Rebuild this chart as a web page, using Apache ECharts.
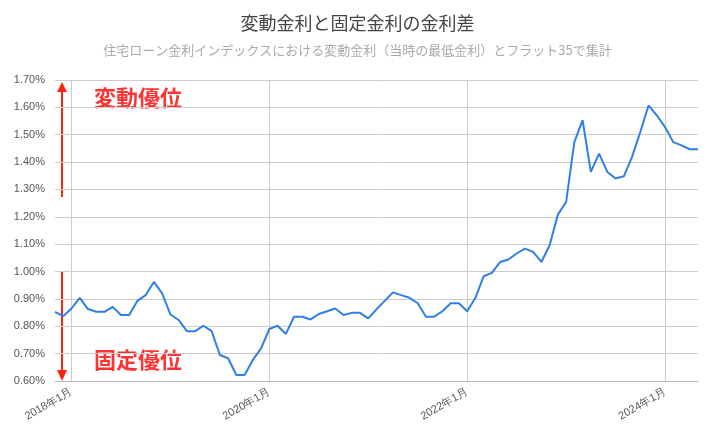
<!DOCTYPE html>
<html><head><meta charset="utf-8">
<script src="https://cdn.jsdelivr.net/npm/echarts@6/dist/echarts.min.js"></script>
<style>html,body{margin:0;padding:0;background:#fff}#c{width:715px;height:441px}</style>
</head><body><div id="c"></div>
<script>
const startYear = 2017, startMonth = 11;
const values = [
0.853,0.837,0.865,0.904,0.863,0.853,0.853,0.871,0.841,0.841,0.893,0.914,0.962,0.920,
0.843,0.823,0.782,0.782,0.802,0.782,0.695,0.683,0.622,0.622,0.677,0.719,
0.790,0.802,0.772,0.835,0.835,0.825,0.845,0.855,0.865,0.841,0.849,0.849,
0.829,0.862,0.893,0.924,0.914,0.904,0.884,0.835,0.835,0.855,0.884,0.884,
0.855,0.904,0.983,0.995,1.035,1.044,1.066,1.084,1.072,1.035,1.096,1.208,
1.254,1.473,1.553,1.364,1.431,1.364,1.340,1.348,1.419,1.510,1.607,1.571,
1.528,1.473,1.461,1.447,1.447
];
const categories = values.map((v,i)=>{const m=startMonth-1+i;return (startYear+Math.floor(m/12))+'年'+(m%12+1)+'月';});
const yTicks = {min:0.6,max:1.7,interval:0.1};
const showTick = (i)=>{const c=categories[i];return /^(2018|2020|2022|2024)年1月$/.test(c);};
const chart = echarts.init(document.getElementById('c'));
chart.setOption({
  animation:false,
  title:{text:'変動金利と固定金利の金利差',subtext:'住宅ローン金利インデックスにおける変動金利（当時の最低金利）とフラット35で集計',
    left:'center',top:9,itemGap:12,
    textStyle:{fontSize:18,color:'#444',fontWeight:'normal',fontFamily:'Noto Sans CJK JP'},
    subtextStyle:{fontSize:13,color:'#aaa',fontFamily:'Noto Sans CJK JP'}},
  grid:{left:55,right:17,top:80,bottom:60},
  xAxis:{type:'category',data:categories,boundaryGap:false,
    axisLine:{lineStyle:{color:'#bbb'}},axisTick:{show:false},
    axisLabel:{interval:(i)=>showTick(i),rotate:30,color:'#555',fontSize:11,margin:10},
    splitLine:{show:true,interval:(i)=>showTick(i),lineStyle:{color:'#ccc'}}},
  yAxis:{type:'value',min:yTicks.min,max:yTicks.max,interval:yTicks.interval,
    axisLine:{show:false},axisTick:{show:false},
    axisLabel:{formatter:(v)=>v.toFixed(2)+'%',color:'#555',fontSize:11,margin:10},
    splitLine:{lineStyle:{color:'#ccc'}}},
  series:[{type:'line',data:values,symbol:'none',lineStyle:{color:'#2f7fe6',width:2}}],
  graphic:[
    {type:'line',shape:{x1:62,y1:197,x2:62,y2:90},style:{stroke:'#f21',lineWidth:2}},
    {type:'polygon',shape:{points:[[57,92],[67,92],[62,82]]},style:{fill:'#f21'}},
    {type:'line',shape:{x1:62,y1:272,x2:62,y2:372},style:{stroke:'#f21',lineWidth:2}},
    {type:'polygon',shape:{points:[[57,370],[67,370],[62,381]]},style:{fill:'#f21'}},
    {type:'text',left:94,top:87,style:{text:'変動優位',fill:'#f33',font:'bold 22px "Noto Sans CJK JP"'}},
    {type:'text',left:94,top:349,style:{text:'固定優位',fill:'#f33',font:'bold 22px "Noto Sans CJK JP"'}}
  ]
});
</script></body></html>
